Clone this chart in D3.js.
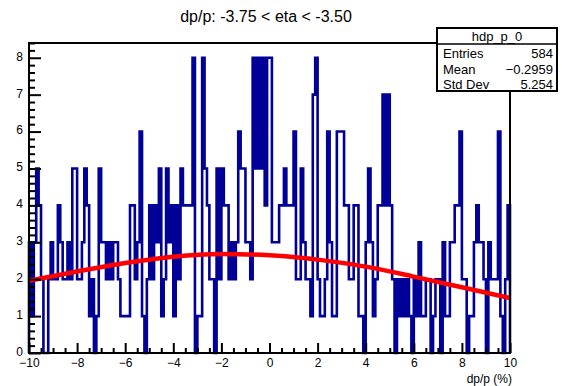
<!DOCTYPE html>
<html>
<head>
<meta charset="utf-8">
<script src="https://cdn.jsdelivr.net/npm/d3@7"></script>
<style>
body { margin: 0; background: #fff; }
svg { display: block; }
text { font-family: "Liberation Sans", Arial, sans-serif; fill: #000; }
</style>
</head>
<body>
<div class="container"></div>
<script>
// histogram: 200 bins from -10 to 10 (bin width 0.1)
var binLo = -10, binHi = 10;
var counts = [
  3,1,3,5,4,2,0,0,2,3,
  2,2,4,3,2,2,3,2,5,5,
  2,2,3,5,4,1,2,0,1,5,
  3,3,2,3,2,3,3,2,1,1,
  1,1,4,4,2,3,6,1,0,2,
  4,2,4,3,5,1,2,5,3,4,
  1,4,2,5,4,4,4,4,8,0,
  1,1,8,5,4,2,2,0,5,2,
  5,4,4,2,3,2,3,6,5,5,
  3,3,2,8,5,8,5,8,4,8,
  8,3,3,3,4,4,5,4,4,4,
  6,2,2,5,3,2,2,1,7,8,
  2,1,1,2,6,3,1,1,6,6,
  6,4,4,2,2,4,4,1,1,0,
  3,5,3,1,2,4,4,7,4,7,
  4,2,0,2,1,2,1,2,1,0,
  2,1,3,1,1,2,2,0,1,2,
  2,0,3,1,1,3,3,4,4,6,
  2,2,0,1,1,3,4,3,3,2,
  0,3,2,2,2,6,1,0,2,4
];

// fit curve
var fitX = [-10, -8, -6, -4, -2, 0, 2, 4, 6, 8, 10];
var fitY = [1.96, 2.21, 2.44, 2.61, 2.68, 2.65, 2.53, 2.34, 2.07, 1.78, 1.49];

var xTicks = [-10, -8, -6, -4, -2, 0, 2, 4, 6, 8, 10];
var xTickLabels = ["\u221210", "\u22128", "\u22126", "\u22124", "\u22122", "0", "2", "4", "6", "8", "10"];
var yTicks = [0, 1, 2, 3, 4, 5, 6, 7, 8];
var yTickLabels = ["0", "1", "2", "3", "4", "5", "6", "7", "8"];

var histName = "hdp_p_0";
var statLabels = ["Entries", "Mean", "Std Dev"];
var statValues = ["584", "\u22120.2959", "5.254"];
var title = "dp/p: -3.75 < eta < -3.50";
var xTitle = "dp/p (%)";

var W = 564, H = 386;
var padL = 29, padR = 510, padT = 43, padB = 353;

var svg = d3.select(".container").append("svg")
    .attr("width", W)
    .attr("height", H);

var x = d3.scaleLinear().domain([binLo, binHi]).range([padL, padR]);
var y = d3.scaleLinear().domain([0, 8.4]).range([padB, padT]);

svg.append("clipPath").attr("id", "plotclip")
  .append("rect")
    .attr("x", padL).attr("y", padT)
    .attr("width", padR - padL).attr("height", padB - padT);

// histogram outline
var bw = (binHi - binLo) / counts.length;
var pts = [[binLo, 0]];
counts.forEach(function(c, i) { pts.push([binLo + i * bw, c]); });
pts.push([binHi, counts[counts.length - 1]]);
pts.push([binHi, 0]);

var stepLine = d3.line()
    .x(function(d) { return x(d[0]); })
    .y(function(d) { return y(d[1]); })
    .curve(d3.curveStepAfter);

svg.append("path")
    .datum(pts)
    .attr("d", stepLine)
    .attr("fill", "none")
    .attr("stroke", "#000099")
    .attr("stroke-width", 2.6)
    .attr("stroke-linejoin", "miter");

// fit curve
var fitLine = d3.line()
    .x(function(d, i) { return x(fitX[i]); })
    .y(function(d) { return y(d); })
    .curve(d3.curveMonotoneX);

svg.append("path")
    .datum(fitY)
    .attr("d", fitLine)
    .attr("clip-path", "url(#plotclip)")
    .attr("fill", "none")
    .attr("stroke", "#ff0000")
    .attr("stroke-width", 4.5);

// axes (ticks inside the frame)
var yMinor = d3.range(0, 8.41, 0.2).filter(function(v) { return Math.abs(v - Math.round(v)) > 1e-6; });
var xMinor = d3.range(-10, 10.01, 0.5).filter(function(v) { return Math.abs(v / 2 - Math.round(v / 2)) > 1e-6; });

var yAxis = svg.append("g")
    .attr("transform", "translate(" + padL + ",0)")
    .call(d3.axisLeft(y).tickValues(yTicks)
      .tickFormat(function(d, i) { return yTickLabels[i]; })
      .tickSizeInner(-12).tickSizeOuter(0).tickPadding(6));
yAxis.select(".domain").remove();
yAxis.selectAll("line").attr("stroke", "#000").attr("stroke-width", 2);
yAxis.selectAll("text").attr("font-size", 12).attr("dy", "0.2em")
    .attr("font-family", "Liberation Sans, Arial, sans-serif");

var yAxisMinor = svg.append("g")
    .attr("transform", "translate(" + padL + ",0)")
    .call(d3.axisLeft(y).tickValues(yMinor).tickFormat("").tickSizeInner(-6).tickSizeOuter(0));
yAxisMinor.select(".domain").remove();
yAxisMinor.selectAll("line").attr("stroke", "#000").attr("stroke-width", 2);

var xAxis = svg.append("g")
    .attr("transform", "translate(0," + padB + ")")
    .call(d3.axisBottom(x).tickValues(xTicks)
      .tickFormat(function(d, i) { return xTickLabels[i]; })
      .tickSizeInner(-10).tickSizeOuter(0).tickPadding(5));
xAxis.select(".domain").remove();
xAxis.selectAll("line").attr("stroke", "#000").attr("stroke-width", 2);
xAxis.selectAll("text").attr("font-size", 12).attr("font-family", "Liberation Sans, Arial, sans-serif");

var xAxisMinor = svg.append("g")
    .attr("transform", "translate(0," + padB + ")")
    .call(d3.axisBottom(x).tickValues(xMinor).tickFormat("").tickSizeInner(-5).tickSizeOuter(0));
xAxisMinor.select(".domain").remove();
xAxisMinor.selectAll("line").attr("stroke", "#000").attr("stroke-width", 2);

// frame
svg.append("rect")
    .attr("x", padL).attr("y", padT)
    .attr("width", padR - padL).attr("height", padB - padT)
    .attr("fill", "none")
    .attr("stroke", "#000")
    .attr("stroke-width", 2);

// title
svg.append("text")
    .attr("x", 266).attr("y", 22)
    .attr("text-anchor", "middle")
    .attr("font-size", 16)
    .text(title);

// axis title
svg.append("text")
    .attr("x", 512).attr("y", 383)
    .attr("text-anchor", "end")
    .attr("font-size", 12)
    .text(xTitle);

// stats box
var bx = 437, by = 28, bwid = 120, bh = 63;
svg.append("rect")
    .attr("x", bx).attr("y", by)
    .attr("width", bwid).attr("height", bh)
    .attr("fill", "#fff")
    .attr("stroke", "#000")
    .attr("stroke-width", 2);
svg.append("line")
    .attr("x1", bx).attr("x2", bx + bwid)
    .attr("y1", 44).attr("y2", 44)
    .attr("stroke", "#000").attr("stroke-width", 1.5);
svg.append("text")
    .attr("x", bx + bwid / 2).attr("y", 40.5)
    .attr("text-anchor", "middle")
    .attr("font-size", 13)
    .text(histName);

var rows = svg.selectAll(".statrow")
    .data(statLabels)
  .enter().append("g")
    .attr("class", "statrow")
    .attr("transform", function(d, i) { return "translate(0," + (58 + i * 15.7) + ")"; });
rows.append("text")
    .attr("x", bx + 6)
    .attr("font-size", 13)
    .text(function(d) { return d; });
rows.append("text")
    .attr("x", bx + bwid - 4)
    .attr("text-anchor", "end")
    .attr("font-size", 13)
    .text(function(d, i) { return statValues[i]; });
</script>
</body>
</html>
